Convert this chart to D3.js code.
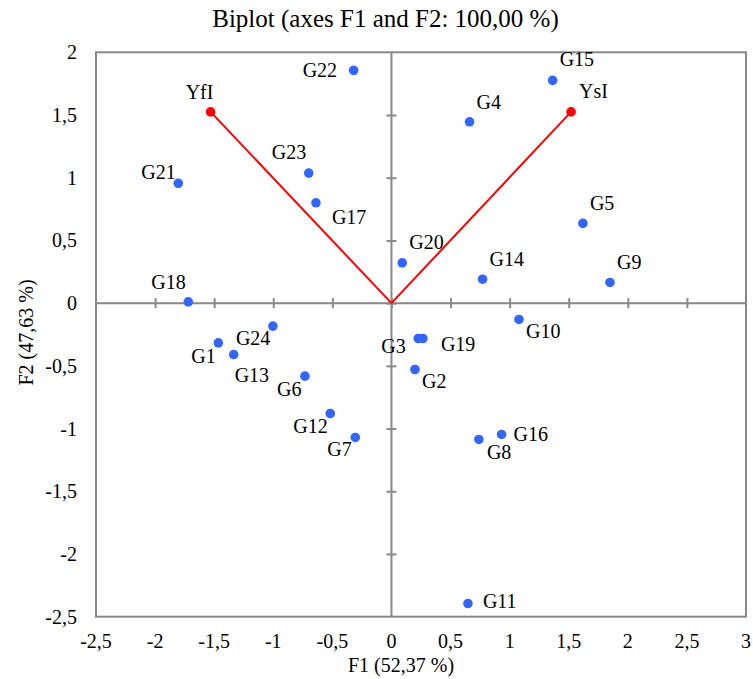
<!DOCTYPE html>
<html>
<head>
<meta charset="utf-8">
<script src="https://cdn.jsdelivr.net/npm/d3@7"></script>
<style>
	body { margin: 0; background: #ffffff; }
	svg { display: block; }
</style>
</head>
<body>
<div id="chart"></div>
<script>

	// observations (F1, F2)
	const obsNames = ['G1','G2','G3','G4','G5','G6','G7','G8','G9','G10','G11','G12',
		'G13','G14','G15','G16','G17','G18','G19','G20','G21','G22','G23','G24'];
	const obsF1 = [-1.465, 0.199, 0.227, 0.661, 1.620, -0.732, -0.306, 0.740, 1.849, 1.079, 0.647, -0.518,
		-1.335, 0.771, 1.364, 0.932, -0.639, -1.719, 0.266, 0.091, -1.804, -0.320, -0.700, -1.003];
	const obsF2 = [-0.317, -0.529, -0.282, 1.446, 0.636, -0.582, -1.071, -1.087, 0.165, -0.130, -2.395, -0.880,
		-0.410, 0.191, 1.776, -1.047, 0.800, 0.010, -0.282, 0.321, 0.955, 1.856, 1.037, -0.183];

	// variables
	const varNames = ['YfI','YsI'];
	const varF1 = [-1.530, 1.520];
	const varF2 = [1.525, 1.525];

	const xTicks = [-2.5, -2, -1.5, -1, -0.5, 0, 0.5, 1, 1.5, 2, 2.5, 3];
	const yTicks = [-2.5, -2, -1.5, -1, -0.5, 0, 0.5, 1, 1.5, 2];

	const chartTitle = 'Biplot (axes F1 and F2: 100,00 %)';
	const xTitle = 'F1 (52,37 %)';
	const yTitle = 'F2 (47,63 %)';

	// where each label sits relative to its dot (left edge, baseline)
	const labelOffset = {
		G1: [-27, 20], G2: [7, 19], G3: [-37, 14], G4: [7, -13], G5: [7, -13], G6: [-28, 20],
		G7: [-28, 19], G8: [8, 20], G9: [7, -13], G10: [7, 19], G11: [15, 4], G12: [-37, 19],
		G13: [1, 27], G14: [7, -13], G15: [7, -14], G16: [12, 7], G17: [16, 21], G18: [-37, -13],
		G19: [18, 12], G20: [7, -14], G21: [-37, -4], G22: [-51, 7], G23: [-37, -14], G24: [-37, 19],
		YfI: [-25, -13], YsI: [8, -14]
	};

	const width = 753;
	const height = 679;
	const margin = { top: 52.3, right: 7, bottom: 62.3, left: 96 };
	const grey = '#898989';

	const svg = d3.select('#chart')
		.append('svg')
		.attr('width', width)
		.attr('height', height)
		.attr('font-family', '"Liberation Serif", "Times New Roman", Times, serif');

	const x = d3.scaleLinear()
		.domain([-2.5, 3])
		.range([margin.left, width - margin.right]);

	const y = d3.scaleLinear()
		.domain([-2.5, 2])
		.range([height - margin.bottom, margin.top]);

	const fmt = function(v){ return String(v).replace('.', ','); };

	// frame
	svg.append('rect')
		.attr('x', x(-2.5))
		.attr('y', y(2))
		.attr('width', x(3) - x(-2.5))
		.attr('height', y(-2.5) - y(2))
		.attr('fill', 'none')
		.attr('stroke', grey)
		.attr('stroke-width', 2);

	// axes through the origin, ticks crossing the line
	const xAxis = d3.axisBottom(x)
		.tickValues(xTicks.filter(function(t){ return t > -2.5 && t < 3; }))
		.tickSize(10)
		.tickFormat('');
	svg.append('g')
		.attr('transform', 'translate(0,' + (y(0) - 5) + ')')
		.call(xAxis)
		.call(function(g){
			g.select('.domain').remove();
			g.selectAll('line').attr('stroke', grey).attr('stroke-width', 2);
		});
	svg.append('line')
		.attr('x1', x(-2.5)).attr('x2', x(3))
		.attr('y1', y(0)).attr('y2', y(0))
		.attr('stroke', grey).attr('stroke-width', 2);

	const yAxis = d3.axisLeft(y)
		.tickValues(yTicks.filter(function(t){ return t > -2.5 && t < 2; }))
		.tickSize(10)
		.tickFormat('');
	svg.append('g')
		.attr('transform', 'translate(' + (x(0) + 5) + ',0)')
		.call(yAxis)
		.call(function(g){
			g.select('.domain').remove();
			g.selectAll('line').attr('stroke', grey).attr('stroke-width', 2);
		});
	svg.append('line')
		.attr('x1', x(0)).attr('x2', x(0))
		.attr('y1', y(2)).attr('y2', y(-2.5))
		.attr('stroke', grey).attr('stroke-width', 2);

	// tick labels
	svg.append('g')
		.selectAll('text')
		.data(xTicks)
		.join('text')
		.attr('x', function(d){ return x(d); })
		.attr('y', 648)
		.attr('text-anchor', 'middle')
		.attr('font-size', 20)
		.attr('fill', '#000')
		.text(fmt);

	svg.append('g')
		.selectAll('text')
		.data(yTicks)
		.join('text')
		.attr('x', 77)
		.attr('y', function(d){ return y(d) + 7; })
		.attr('text-anchor', 'end')
		.attr('font-size', 20)
		.attr('fill', '#000')
		.text(fmt);

	// titles
	svg.append('text')
		.attr('x', 385.5)
		.attr('y', 27)
		.attr('text-anchor', 'middle')
		.attr('font-size', 25)
		.attr('fill', '#000')
		.text(chartTitle);

	svg.append('text')
		.attr('x', 401)
		.attr('y', 672)
		.attr('text-anchor', 'middle')
		.attr('font-size', 20)
		.attr('fill', '#000')
		.text(xTitle);

	svg.append('text')
		.attr('transform', 'translate(33,332.5) rotate(-90)')
		.attr('text-anchor', 'middle')
		.attr('font-size', 20)
		.attr('fill', '#000')
		.text(yTitle);

	// variable vectors
	svg.append('g')
		.selectAll('line')
		.data(varNames)
		.join('line')
		.attr('x1', x(0))
		.attr('y1', y(0))
		.attr('x2', function(d, i){ return x(varF1[i]); })
		.attr('y2', function(d, i){ return y(varF2[i]); })
		.attr('stroke', '#ff0000')
		.attr('stroke-width', 2);

	// observations
	svg.append('g')
		.selectAll('circle')
		.data(obsNames)
		.join('circle')
		.attr('cx', function(d, i){ return x(obsF1[i]); })
		.attr('cy', function(d, i){ return y(obsF2[i]); })
		.attr('r', 4.8)
		.attr('fill', '#3366ff');

	svg.append('g')
		.selectAll('text')
		.data(obsNames)
		.join('text')
		.attr('x', function(d, i){ return x(obsF1[i]) + labelOffset[d][0]; })
		.attr('y', function(d, i){ return y(obsF2[i]) + labelOffset[d][1]; })
		.attr('font-size', 20)
		.attr('fill', '#000')
		.text(function(d){ return d; });

	svg.append('g')
		.selectAll('circle')
		.data(varNames)
		.join('circle')
		.attr('cx', function(d, i){ return x(varF1[i]); })
		.attr('cy', function(d, i){ return y(varF2[i]); })
		.attr('r', 4.8)
		.attr('fill', '#ff0000');

	svg.append('g')
		.selectAll('text')
		.data(varNames)
		.join('text')
		.attr('x', function(d, i){ return x(varF1[i]) + labelOffset[d][0]; })
		.attr('y', function(d, i){ return y(varF2[i]) + labelOffset[d][1]; })
		.attr('font-size', 20)
		.attr('fill', '#000')
		.text(function(d){ return d; });

</script>
</body>
</html>
